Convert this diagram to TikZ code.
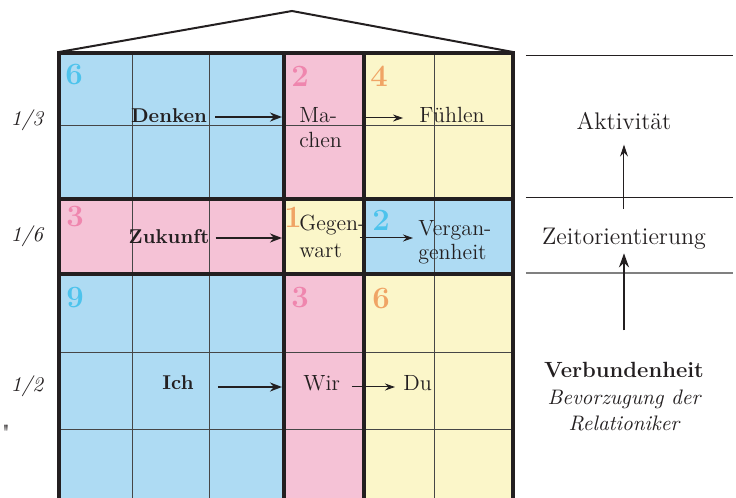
\documentclass[tikz,border=0pt]{standalone}
\usetikzlibrary{arrows.meta}
\definecolor{cblue}{RGB}{174,219,243}
\definecolor{cpink}{RGB}{245,194,214}
\definecolor{cyel}{RGB}{251,246,201}
\definecolor{nblue}{RGB}{77,195,236}
\definecolor{npink}{RGB}{239,134,174}
\definecolor{norange}{RGB}{240,164,101}
\definecolor{ink}{RGB}{35,31,32}
\definecolor{gridc}{RGB}{70,70,70}
\begin{document}
\begin{tikzpicture}[x=0.5pt,y=-0.5pt,
  tx/.style={inner sep=0pt,text=ink,font=\fontsize{11}{13}\selectfont},
  bx/.style={inner sep=0pt,text=ink,font=\fontsize{10}{12}\selectfont\bfseries},
  rt/.style={inner sep=0pt,text=ink,font=\fontsize{12}{14}\selectfont},
  fr/.style={inner sep=0pt,text=ink,font=\fontsize{10.5}{12}\selectfont\itshape},
  num/.style={inner sep=0pt,font=\fontsize{15.5}{15.5}\selectfont\bfseries},
  thinline/.style={draw=gridc,line width=0.5pt},
  thickline/.style={draw=ink,line width=1.6pt},
  bigarr/.style={draw=ink,line width=1pt,-{Stealth[length=6pt,width=4.5pt]}},
  smallarr/.style={draw=ink,line width=0.5pt,-{Stealth[length=5pt,width=3.5pt]}}]
\useasboundingbox (0,0) rectangle (736,498);
\begin{scope}
\clip (0,0) rectangle (736,498);
% fills
\fill[cblue] (59,53) rectangle (284,199);
\fill[cpink] (284,53) rectangle (364,199);
\fill[cyel] (364,53) rectangle (513,199);
\fill[cpink] (59,199) rectangle (284,274);
\fill[cyel] (284,199) rectangle (364,274);
\fill[cblue] (364,199) rectangle (513,274);
\fill[cblue] (59,274) rectangle (284,505);
\fill[cpink] (284,274) rectangle (364,505);
\fill[cyel] (364,274) rectangle (513,505);
% thin grid
\draw[thinline] (133,53) -- (133,505);
\draw[thinline] (210,53) -- (210,505);
\draw[thinline] (435,53) -- (435,505);
\draw[thinline] (59,126) -- (513,126);
\draw[thinline] (59,353) -- (513,353);
\draw[thinline] (59,430) -- (513,430);
% thick frame
\draw[thickline] (59,505) -- (59,53) -- (513,53) -- (513,505);
\draw[thickline] (284,53) -- (284,505);
\draw[thickline] (364,53) -- (364,505);
\draw[thickline] (59,199) -- (513,199);
\draw[thickline] (59,274) -- (513,274);
\end{scope}
% roof
\coordinate (roofL) at (59,52);
\coordinate (roofT) at (292,11);
\coordinate (roofR) at (513,52);
\draw[ink,line width=1pt,line join=miter] (roofL) -- (roofT) -- (roofR);
% right side lines
\coordinate (r1a) at (526,56); \coordinate (r1b) at (733,56);
\coordinate (r2a) at (526,198); \coordinate (r2b) at (733,198);
\coordinate (r3a) at (526,273); \coordinate (r3b) at (733,273);
\draw[ink,line width=0.5pt] (r1a) -- (r1b);
\draw[ink,line width=0.5pt] (r2a) -- (r2b);
\draw[gray,line width=1pt] (r3a) -- (r3b);
% numbers
\node[num,text=nblue] (n6a) at (74,75) {6};
\node[num,text=npink] (n2a) at (300,76) {2};
\node[num,text=norange] (n4a) at (379,76) {4};
\node[num,text=npink] (n3a) at (75,217) {3};
\node[num,text=norange] (n1a) at (293,217) {1};
\node[num,text=nblue] (n2b) at (381,220) {2};
\node[num,text=nblue] (n9a) at (75,298) {9};
\node[num,text=npink] (n3b) at (300,298) {3};
\node[num,text=norange] (n6b) at (381,299) {6};
% grid texts
\node[bx,anchor=base] (denken) at (169,123) {Denken};
\node[tx,anchor=base west] (ma) at (299,123) {Ma-};
\node[tx,anchor=base west] (chen) at (299,148) {chen};
\node[tx,anchor=base] (fuehlen) at (452,123) {Fühlen};
\node[bx,anchor=base] (zukunft) at (169,243) {Zukunft};
\node[tx,anchor=base west] (gegen) at (299,230) {Gegen-};
\node[tx,anchor=base west] (wart) at (299,257) {wart};
\node[tx,anchor=base west] (vergan) at (418,235) {Vergan-};
\node[tx,anchor=base west] (genheit) at (418,260) {genheit};
\node[bx,anchor=base] (ich) at (178,390) {Ich};
\node[tx,anchor=base west] (wir) at (303,391) {Wir};
\node[tx,anchor=base west] (du) at (403,391) {Du};
% left fractions
\node[fr,anchor=base] (f13) at (27,126) {1/3};
\node[fr,anchor=base] (f16) at (27,242) {1/6};
\node[fr,anchor=base] (f12) at (27,392) {1/2};
\node[tx,anchor=base] (quote) at (6,440) {\textquotedbl};
% right texts
\node[rt,anchor=base] (akt) at (624,130) {Aktivität};
\node[rt,anchor=base] (zeit) at (624,244) {Zeitorientierung};
\node[inner sep=0pt,text=ink,font=\fontsize{11}{13}\selectfont\bfseries,anchor=base] (verb) at (624,378) {Verbundenheit};
\node[inner sep=0pt,text=ink,font=\fontsize{10.5}{13}\selectfont\itshape,anchor=base] (bev) at (624,404) {Bevorzugung der};
\node[inner sep=0pt,text=ink,font=\fontsize{10.5}{13}\selectfont\itshape,anchor=base] (rel) at (624,430) {Relationiker};
% arrow end coordinates
\coordinate (aDend) at (282,117);
\coordinate (aZend) at (282,238);
\coordinate (aIend) at (282,387);
\coordinate (aMstart) at (362,118);
\coordinate (aGstart) at (360,238);
\coordinate (aWstart) at (352,387);
% arrows in grid
\draw[bigarr] (denken.east |- aDend) ++(8,0) -- (aDend);
\draw[bigarr] (zukunft.east |- aZend) ++(6,0) -- (aZend);
\draw[bigarr] (ich.east |- aIend) ++(24,0) -- (aIend);
\draw[smallarr] (aMstart) -- ([xshift=-8pt]fuehlen.west |- aMstart);
\draw[smallarr] (aGstart) -- ([xshift=-2.5pt]vergan.west |- aGstart);
\draw[smallarr] (aWstart) -- ([xshift=-4pt]du.west |- aWstart);
% right arrows
\draw[ink,line width=0.5pt,-{Stealth[length=6pt,width=4pt]},shorten <=9pt,shorten >=7pt] (zeit.north) -- (akt.south);
\draw[ink,line width=1.3pt,-{Stealth[length=7pt,width=5pt]},shorten <=16pt,shorten >=2pt] (verb.north) -- (zeit.south);
\end{tikzpicture}
\end{document}
